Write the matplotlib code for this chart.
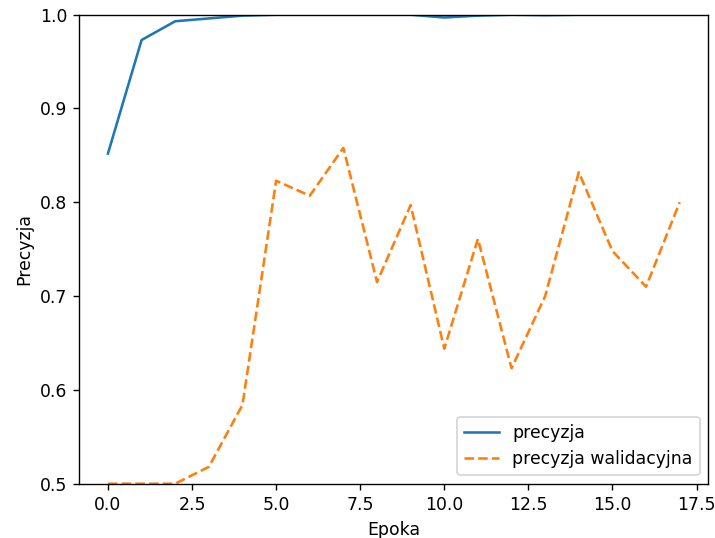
import matplotlib
matplotlib.use('Agg')
import matplotlib.pyplot as plt

# Wartosci
epoki = list(range(18))
precyzja = [0.852, 0.973, 0.993, 0.996, 0.999, 1.0, 1.0, 1.0, 1.0, 1.0,
            0.997, 0.999, 1.0, 0.9995, 1.0, 1.0, 1.0, 1.0]
precyzja_wal = [0.5, 0.5, 0.5, 0.518, 0.584, 0.823, 0.807, 0.858, 0.715, 0.797,
                0.644, 0.761, 0.623, 0.700, 0.832, 0.748, 0.710, 0.800]

dpi = 124
fig = plt.figure(figsize=(715 / dpi, 538 / dpi), dpi=dpi)
ax = fig.add_axes([0.111, 0.1009, 0.8796, 0.8718])
ax.plot(epoki, precyzja, label='precyzja')
ax.plot(epoki, precyzja_wal, '--', label='precyzja walidacyjna')
ax.set_ylim(0.5, 1.0)
ax.set_xlabel('Epoka')
ax.set_ylabel('Precyzja')
ax.legend(loc='lower right')
fig.savefig('out.png', dpi=dpi)
